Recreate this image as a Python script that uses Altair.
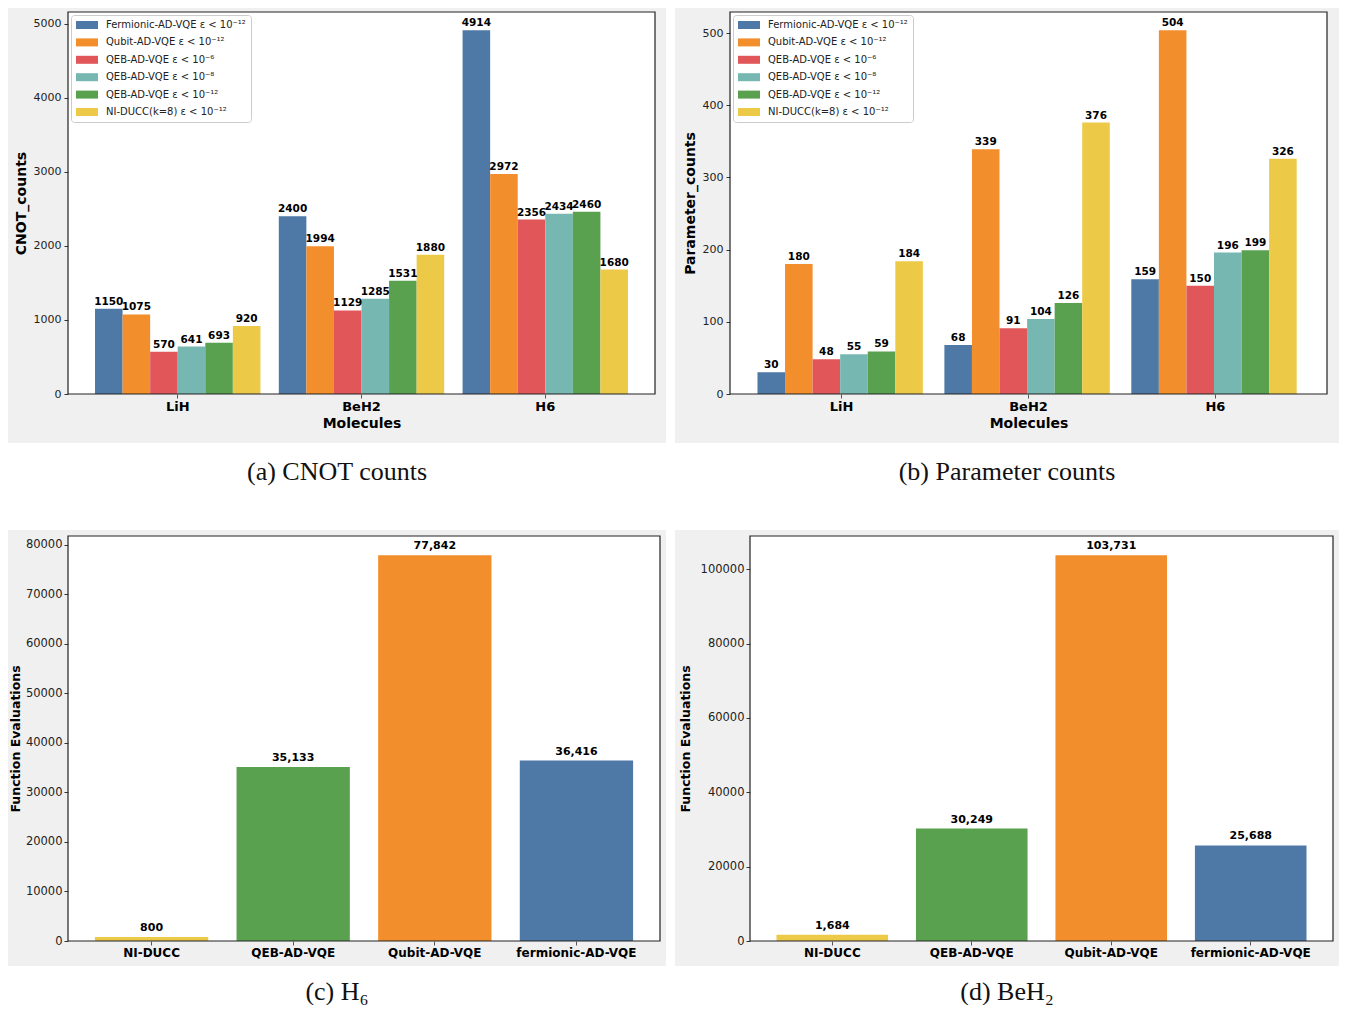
import altair as alt
import pandas as pd

# ---------------- data ----------------
molecules = ["LiH", "BeH2", "H6"]
series_names = [
    "Fermionic-AD-VQE ε < 10⁻¹²",
    "Qubit-AD-VQE ε < 10⁻¹²",
    "QEB-AD-VQE ε < 10⁻⁶",
    "QEB-AD-VQE ε < 10⁻⁸",
    "QEB-AD-VQE ε < 10⁻¹²",
    "NI-DUCC(k=8) ε < 10⁻¹²",
]
series_colors = ["#4e79a7", "#f28e2b", "#e15759", "#76b7b2", "#59a14f", "#edc948"]

cnot_fermionic = [1150, 2400, 4914]
cnot_qubit = [1075, 1994, 2972]
cnot_qeb6 = [570, 1129, 2356]
cnot_qeb8 = [641, 1285, 2434]
cnot_qeb12 = [693, 1531, 2460]
cnot_niducc = [920, 1880, 1680]

par_fermionic = [30, 68, 159]
par_qubit = [180, 339, 504]
par_qeb6 = [48, 91, 150]
par_qeb8 = [55, 104, 196]
par_qeb12 = [59, 126, 199]
par_niducc = [184, 376, 326]

methods = ["NI-DUCC", "QEB-AD-VQE", "Qubit-AD-VQE", "fermionic-AD-VQE"]
method_colors = ["#edc948", "#59a14f", "#f28e2b", "#4e79a7"]
fe_h6 = [800, 35133, 77842, 36416]
fe_beh2 = [1684, 30249, 103731, 25688]

cnot_ticks = [0, 1000, 2000, 3000, 4000, 5000]
par_ticks = [0, 100, 200, 300, 400, 500]
h6_ticks = [0, 10000, 20000, 30000, 40000, 50000, 60000, 70000, 80000]
beh2_ticks = [0, 20000, 40000, 60000, 80000, 100000]


def long_df(cols):
    rows = []
    for s, vals in zip(series_names, cols):
        for m, v in zip(molecules, vals):
            rows.append({"Molecule": m, "Series": s, "Value": v})
    return pd.DataFrame(rows)


cnot_df = long_df([cnot_fermionic, cnot_qubit, cnot_qeb6, cnot_qeb8, cnot_qeb12, cnot_niducc])
par_df = long_df([par_fermionic, par_qubit, par_qeb6, par_qeb8, par_qeb12, par_niducc])
h6_df = pd.DataFrame({"Method": methods, "Value": fe_h6})
beh2_df = pd.DataFrame({"Method": methods, "Value": fe_beh2})

SANS = "DejaVu Sans"
SERIF = "Liberation Serif"
GREY = "#f0f0f0"
one = pd.DataFrame({"k": [0]})


def frame_layers(w, h, ext):
    left, right, top, bottom = ext
    bg = alt.Chart(one).mark_rect(color=GREY).encode(
        x=alt.value(-left), x2=alt.value(w + right), y=alt.value(-top), y2=alt.value(h + bottom)
    )
    white = alt.Chart(one).mark_rect(color="white").encode(
        x=alt.value(0), x2=alt.value(w), y=alt.value(0), y2=alt.value(h)
    )
    border = alt.Chart(one).mark_rect(fillOpacity=0, stroke="#222222", strokeWidth=1.2).encode(
        x=alt.value(0), x2=alt.value(w), y=alt.value(0), y2=alt.value(h)
    )
    return bg, white, border


def caption(text, offset):
    return alt.TitleParams(
        text=text, orient="bottom", font=SERIF, fontSize=26, fontWeight="normal",
        color="#111111", offset=offset, anchor="middle", frame="bounds",
    )


def grouped_panel(df, ytitle, ticks, w, h, ext, cap, label_size):
    ymax = df["Value"].max() * 1.05
    xaxis = alt.Axis(
        title="Molecules", labelAngle=0, labelFont=SANS, labelFontSize=13, labelFontWeight="bold",
        labelColor="black", titleFont=SANS, titleFontSize=14, titleFontWeight="bold",
        titleColor="black", tickColor="#555555", tickSize=4, domain=False, zindex=1,
        labelPadding=2, titlePadding=3,
    )
    yaxis = alt.Axis(
        title=ytitle, values=ticks, format="d", labelFont=SANS, labelFontSize=11,
        labelColor="#222222", titleFont=SANS, titleFontSize=14, titleFontWeight="bold",
        titleColor="black", tickColor="#333333", tickSize=4, domain=False, grid=False,
        zindex=1, labelPadding=3, titlePadding=5,
    )
    x = alt.X("Molecule:N", sort=molecules, scale=alt.Scale(paddingInner=0.1, paddingOuter=0.147), axis=xaxis)
    xo = alt.XOffset("Series:N", sort=series_names, scale=alt.Scale(domain=series_names))
    y = alt.Y("Value:Q", scale=alt.Scale(domain=[0, ymax], nice=False, zero=True), axis=yaxis)
    legend = alt.Legend(
        title=None, orient="top-left", offset=3, padding=5, fillColor="white",
        strokeColor="#cccccc", cornerRadius=3, symbolType="M-1,-0.8H3.4V0.8H-1Z",
        symbolSize=100, symbolStrokeWidth=0, symbolOpacity=1, labelFont=SANS,
        labelFontSize=10, labelColor="#222222", labelOffset=20, rowPadding=7.4, zindex=2,
        labelLimit=300,
    )
    color = alt.Color("Series:N", scale=alt.Scale(domain=series_names, range=series_colors), legend=legend)
    bars = alt.Chart(df).mark_bar().encode(x=x, xOffset=xo, y=y, color=color)
    labels = alt.Chart(df).mark_text(
        baseline="bottom", dy=-2, font=SANS, fontWeight="bold", fontSize=label_size, color="black"
    ).encode(x=x, xOffset=xo, y=y, text=alt.Text("Value:Q", format="d"))
    bg, white, border = frame_layers(w, h, ext)
    return alt.layer(bg, white, bars, labels, border).properties(width=w, height=h, title=caption(cap, 16))


def simple_panel(df, ticks, w, h, ext, cap, title_pad):
    ymax = df["Value"].max() * 1.05
    xaxis = alt.Axis(
        title=None, labelAngle=0, labelFont=SANS, labelFontSize=12, labelFontWeight="bold",
        labelColor="black", tickColor="#555555", tickSize=4, domain=False, zindex=1, labelPadding=2,
    )
    yaxis = alt.Axis(
        title="Function Evaluations", values=ticks, format="d", labelFont=SANS, labelFontSize=11.5,
        labelColor="#222222", titleFont=SANS, titleFontSize=12.5, titleFontWeight="bold",
        titleColor="black", tickColor="#333333", tickSize=4, domain=False, grid=False,
        zindex=1, labelPadding=2, titlePadding=title_pad,
    )
    x = alt.X("Method:N", sort=methods, scale=alt.Scale(paddingInner=0.2, paddingOuter=0.19), axis=xaxis)
    y = alt.Y("Value:Q", scale=alt.Scale(domain=[0, ymax], nice=False, zero=True), axis=yaxis)
    color = alt.Color("Method:N", scale=alt.Scale(domain=methods, range=method_colors), legend=None)
    bars = alt.Chart(df).mark_bar().encode(x=x, y=y, color=color)
    labels = alt.Chart(df).mark_text(
        baseline="bottom", dy=-4, font=SANS, fontWeight="bold", fontSize=11, color="black"
    ).encode(x=x, y=y, text=alt.Text("Value:Q", format=",d"))
    bg, white, border = frame_layers(w, h, ext)
    return alt.layer(bg, white, bars, labels, border).properties(width=w, height=h, title=caption(cap, 13))


# extents: (left, right, top, bottom) of the grey panel around the plot area
pa = grouped_panel(cnot_df, "CNOT_counts", cnot_ticks, 587, 382, (60, 11, 4, 49), "(a) CNOT counts", 10.5)
pb = grouped_panel(par_df, "Parameter_counts", par_ticks, 597, 382, (55, 12, 4, 49), "(b) Parameter counts", 10.5)
pc = simple_panel(h6_df, h6_ticks, 592, 405, (60, 6, 6, 25), "(c) H₆", 3)
pd_ = simple_panel(beh2_df, beh2_ticks, 583, 405, (75, 6, 6, 25), "(d) BeH₂", 8)

row1 = alt.hconcat(pa, pb, spacing=9).resolve_scale(color="independent").resolve_legend(color="independent")
row2 = alt.hconcat(pc, pd_, spacing=9).resolve_scale(color="independent").resolve_legend(color="independent")
chart = (
    alt.vconcat(row1, row2, spacing=45)
    .resolve_scale(color="independent")
    .resolve_legend(color="independent")
    .properties(padding=0)
    .configure_view(strokeWidth=0)
)

chart.save("out.html", embed_options={"renderer": "svg", "actions": False})
